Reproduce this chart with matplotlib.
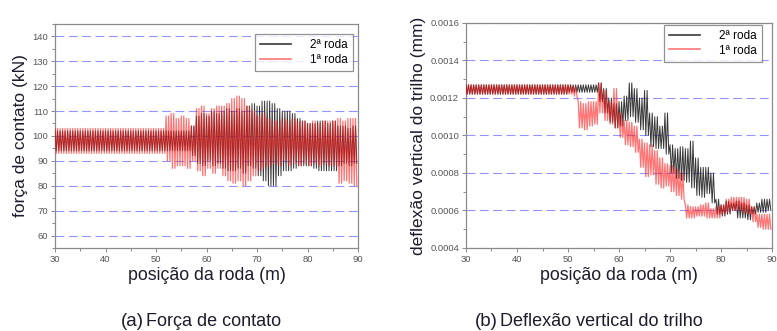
import numpy as np
import matplotlib.pyplot as plt
from matplotlib.ticker import MultipleLocator, FormatStrFormatter

plt.rcParams['font.family'] = ['Liberation Sans', 'DejaVu Sans']

# position bins (m), one per metre from 30 to 89
pos = list(range(30, 90))

# (a) contact force envelope per metre (kN): high / low of the oscillation
forca_1_hi = [103] * 22 + [108, 109, 107, 108, 107,
              104, 111, 112, 109, 111, 112, 112, 113, 115, 116, 115, 112, 110, 108, 109, 107,
              106, 106, 107, 106, 107, 106, 106, 105, 106, 105, 106, 106, 106, 107, 106, 107, 107]
forca_1_lo = [93] * 22 + [90, 87, 88, 88, 87,
              90, 86, 84, 87, 85, 87, 84, 82, 81, 82, 80, 82, 84, 86, 87, 88,
              89, 88, 90, 88, 89, 88, 89, 88, 89, 88, 89, 88, 88, 81, 82, 81, 80]
forca_2_hi = [102] * 27 + [104, 108, 109, 108, 110, 109, 110, 111, 110, 111, 110, 112, 113, 112, 114, 114,
              113, 111, 110, 110, 109, 107, 106, 105, 105, 106, 106, 105, 106, 104, 104, 103, 104]
forca_2_lo = [94] * 27 + [92, 89, 88, 90, 88, 89, 87, 86, 86, 87, 85, 88, 87, 84, 82, 80,
              80, 84, 86, 86, 87, 88, 88, 88, 87, 86, 86, 86, 86, 88, 89, 88, 89]

# (b) rail vertical deflection envelope per metre (mm)
defl_1_hi = [0.00127] * 21 + [0.00126, 0.00118, 0.00117, 0.00118, 0.00118, 0.00128, 0.00124, 0.00118, 0.00125,
             0.00112, 0.00108, 0.00107, 0.00105, 0.00098, 0.00096, 0.00095, 0.00092, 0.00088, 0.00085,
             0.00084, 0.00082, 0.00080, 0.00063, 0.00062, 0.00062, 0.00063, 0.00064, 0.00061, 0.00062,
             0.00063, 0.00066, 0.00067, 0.00067, 0.00067, 0.00066, 0.00062, 0.00058, 0.00058, 0.00058]
defl_1_lo = [0.00122] * 21 + [0.00121, 0.00104, 0.00103, 0.00105, 0.00106, 0.00112, 0.00108, 0.00106, 0.00104,
             0.00099, 0.00095, 0.00094, 0.00091, 0.00083, 0.00078, 0.00079, 0.00074, 0.00072, 0.00073,
             0.00070, 0.00068, 0.00066, 0.00056, 0.00056, 0.00057, 0.00057, 0.00056, 0.00056, 0.00056,
             0.00058, 0.00059, 0.00060, 0.00060, 0.00059, 0.00058, 0.00054, 0.00051, 0.00050, 0.00050]
defl_2_hi = [0.00127] * 26 + [0.00128, 0.00125, 0.00120, 0.00117, 0.00118, 0.00121, 0.00128, 0.00125, 0.00120,
             0.00124, 0.00112, 0.00110, 0.00105, 0.00112, 0.00095, 0.00093, 0.00094, 0.00093, 0.00097,
             0.00088, 0.00083, 0.00083, 0.00080, 0.00066, 0.00063, 0.00065, 0.00064, 0.00065, 0.00064,
             0.00063, 0.00062, 0.00064, 0.00066, 0.00066]
defl_2_lo = [0.00122] * 20 + [0.00123] * 6 + [0.00118, 0.00112, 0.00107, 0.00104, 0.00105, 0.00108, 0.00110,
             0.00107, 0.00103, 0.00100, 0.00094, 0.00093, 0.00093, 0.00090, 0.00080, 0.00077, 0.00076,
             0.00075, 0.00072, 0.00068, 0.00067, 0.00069, 0.00064, 0.00058, 0.00057, 0.00058, 0.00060,
             0.00056, 0.00056, 0.00055, 0.00058, 0.00059, 0.00059, 0.00060]

labels = ["2ª roda", "1ª roda"]


def zigzag(hi, lo):
    # two oscillations per metre between the read envelope values
    x = np.arange(pos[0], pos[-1] + 1, 0.25)
    y = np.column_stack([hi, lo, hi, lo]).ravel()
    return x, y


fig = plt.figure(figsize=(7.77, 3.31), dpi=100)
ax1 = fig.add_axes([0.0708, 0.2508, 0.390, 0.677])
ax2 = fig.add_axes([0.5997, 0.2508, 0.394, 0.680])

txt_c = '#1c1c2c'
grid_c = '#9494ff'
for ax, (h2, l2), (h1, l1) in [
        (ax1, (forca_2_hi, forca_2_lo), (forca_1_hi, forca_1_lo)),
        (ax2, (defl_2_hi, defl_2_lo), (defl_1_hi, defl_1_lo))]:
    x2, y2 = zigzag(h2, l2)
    x1, y1 = zigzag(h1, l1)
    ax.plot(x2, y2, color='#222222', lw=0.7, alpha=0.9, label=labels[0], zorder=3)
    ax.plot(x1, y1, color='#ff1a1a', lw=0.9, alpha=0.6, label=labels[1], zorder=4)
    ax.set_xlim(30, 90)
    ax.xaxis.set_major_locator(MultipleLocator(10))
    ax.xaxis.set_minor_locator(MultipleLocator(5))
    ax.yaxis.grid(True, color=grid_c, lw=0.8, dashes=(8, 4))
    ax.set_axisbelow(True)
    for s in ax.spines.values():
        s.set_color('#8a8a8a')
        s.set_linewidth(0.9)
    ax.tick_params(which='both', direction='out', colors='#8a8a8a', labelcolor='#555555',
                   labelsize=6.8, length=3, width=0.7, pad=2)
    ax.tick_params(which='minor', length=2)
    ax.set_xlabel("posição da roda (m)", fontsize=12.8, color=txt_c, labelpad=2)

ax1.set_ylim(55, 145)
ax1.yaxis.set_major_locator(MultipleLocator(10))
ax1.yaxis.set_minor_locator(MultipleLocator(5))
ax1.set_ylabel("força de contato (kN)", fontsize=12.5, color=txt_c, labelpad=3)

ax2.set_ylim(0.0004, 0.0016)
ax2.yaxis.set_major_locator(MultipleLocator(0.0002))
ax2.yaxis.set_minor_locator(MultipleLocator(0.0001))
ax2.yaxis.set_major_formatter(FormatStrFormatter('%.4f'))
ax2.set_ylabel("deflexão vertical do trilho (mm)", fontsize=12.5, color=txt_c, labelpad=3)

for ax, anchor in [(ax1, (0.983, 0.955)), (ax2, (0.967, 0.991))]:
    leg = ax.legend(loc='upper right', bbox_to_anchor=anchor, borderaxespad=0, fontsize=8.5,
                    frameon=True, fancybox=False, shadow=False, handlelength=2.6, borderpad=0.45,
                    labelspacing=0.2, handletextpad=1.6)
    leg.get_frame().set_edgecolor('#777777')
    leg.get_frame().set_linewidth(0.9)
    for ln in leg.get_lines():
        ln.set_linewidth(1.2)

fig.text(0.185, 0.03, "(a)", fontsize=13.5, color=txt_c, ha='right', va='center')
fig.text(0.188, 0.03, "Força de contato", fontsize=13, color=txt_c, ha='left', va='center')
fig.text(0.640, 0.03, "(b)", fontsize=13.5, color=txt_c, ha='right', va='center')
fig.text(0.643, 0.03, "Deflexão vertical do trilho", fontsize=13, color=txt_c, ha='left', va='center')

fig.savefig("out.png", dpi=100)
